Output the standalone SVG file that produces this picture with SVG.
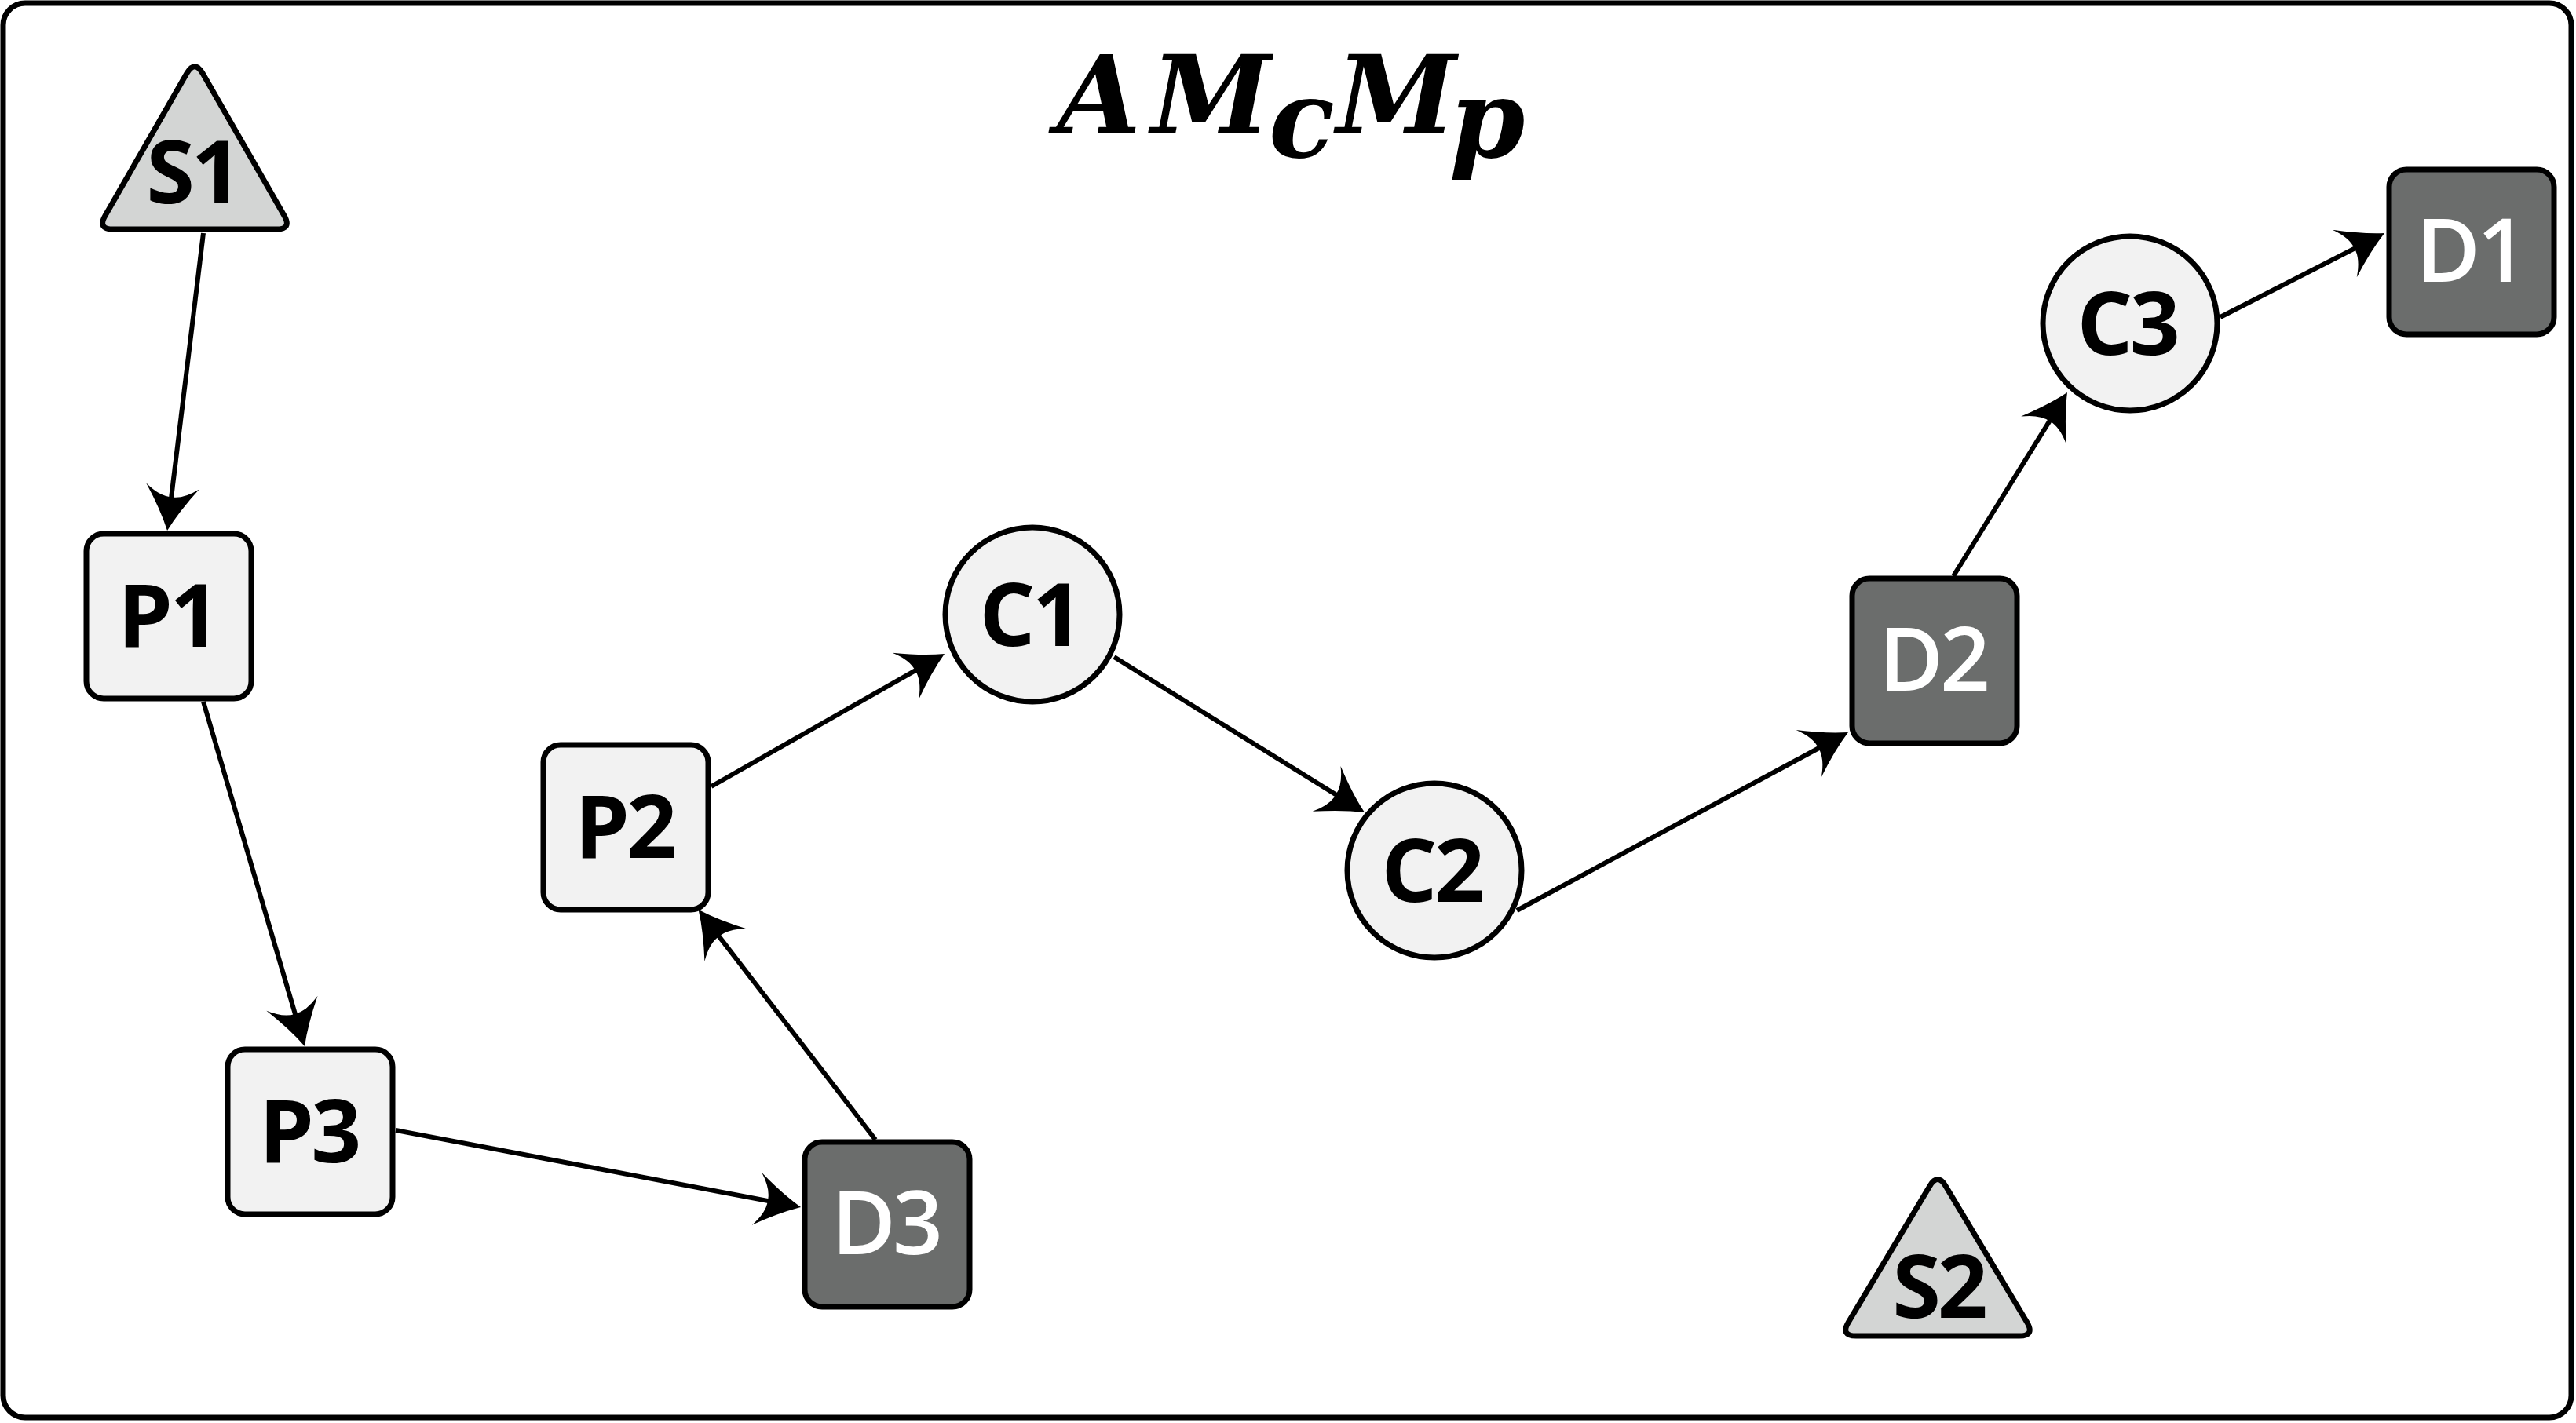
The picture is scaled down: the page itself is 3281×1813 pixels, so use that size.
<svg xmlns="http://www.w3.org/2000/svg" width="3281" height="1813" viewBox="0 0 3281 1813">
<style>
.frame{fill:#ffffff;stroke:#000;stroke-width:7}
.light{fill:#f2f2f2;stroke:#000;stroke-width:7}
.src{fill:#d3d5d4;stroke:#000;stroke-width:7;stroke-linejoin:round}
.dark{fill:#6b6d6c;stroke:#000;stroke-width:7}
.lbl{font-family:"Open Sans","Noto Sans","DejaVu Sans",sans-serif;font-weight:700;font-size:112px;letter-spacing:-4px;text-anchor:middle;fill:#000}
.lblw{fill:#ffffff;font-weight:600}
.title{font-family:"DejaVu Serif","Liberation Serif",serif;font-weight:bold;font-style:italic;font-size:138px;fill:#000}
.edge{stroke:#000;stroke-width:6;fill:none;marker-end:url(#arr)}
</style>
<defs>
<marker id="arr" markerUnits="userSpaceOnUse" viewBox="-25 -40 70 80" markerWidth="70" markerHeight="80" refX="0" refY="0" orient="auto" overflow="visible">
<path d="M38,0 Q12,-12 -19,-34 Q-4,-15 -5,0 Q-4,15 -19,34 Q12,12 38,0 Z" fill="#000"/>
</marker>
</defs>
<rect class="frame" x="4" y="4" width="3271" height="1802" rx="28"/>
<text class="title" y="170"><tspan x="1346">A</tspan><tspan x="1466">M</tspan><tspan x="1616" y="200">c</tspan><tspan x="1702" y="170">M</tspan><tspan x="1846" y="200">p</tspan></text>
<g id="connectors">
<line class="edge" x1="259" y1="297" x2="217.6" y2="638.3"/>
<line class="edge" x1="259" y1="894" x2="377.3" y2="1296.5"/>
<line class="edge" x1="504" y1="1440" x2="982.7" y2="1530.9"/>
<line class="edge" x1="1115" y1="1452" x2="912.8" y2="1189.1"/>
<line class="edge" x1="906" y1="1002" x2="1170.0" y2="851.8"/>
<line class="edge" x1="1419" y1="837" x2="1705.7" y2="1015.0"/>
<line class="edge" x1="1932" y1="1160" x2="2320.5" y2="951.0"/>
<line class="edge" x1="2488" y1="734" x2="2613.0" y2="532.3"/>
<line class="edge" x1="2828" y1="404" x2="3003.2" y2="314.3"/>
</g>
<g id="S1"><path class="src" d="M238,93.3 Q248,76 258,93.3 L362,274.7 Q372,292 352,292 L144,292 Q124,292 134,274.7 Z"/><text class="lbl" x="245" y="259">S1</text></g>
<g id="S2"><path class="src" d="M2457.8,1511.2 Q2468,1494 2478.2,1511.2 L2581.8,1684.8 Q2592,1702 2572,1702 L2364,1702 Q2344,1702 2354.2,1684.8 Z"/><text class="lbl" x="2469" y="1679">S2</text></g>
<g id="P1"><rect class="light" x="110" y="680" width="210" height="210" rx="22"/><text class="lbl" x="213" y="824">P1</text></g>
<g id="P2"><rect class="light" x="692" y="949" width="210" height="210" rx="22"/><text class="lbl" x="795" y="1093">P2</text></g>
<g id="P3"><rect class="light" x="290" y="1337" width="210" height="210" rx="22"/><text class="lbl" x="393" y="1481">P3</text></g>
<g id="C1"><circle class="light" cx="1315" cy="783" r="111"/><text class="lbl" x="1311" y="823">C1</text></g>
<g id="C2"><circle class="light" cx="1827" cy="1109" r="111"/><text class="lbl" x="1823" y="1149">C2</text></g>
<g id="C3"><circle class="light" cx="2713" cy="412" r="111"/><text class="lbl" x="2709" y="452">C3</text></g>
<g id="D1"><rect class="dark" x="3043" y="216" width="210" height="210" rx="22"/><text class="lbl lblw" x="3146" y="359">D1</text></g>
<g id="D2"><rect class="dark" x="2359" y="737" width="210" height="210" rx="22"/><text class="lbl lblw" x="2462" y="880">D2</text></g>
<g id="D3"><rect class="dark" x="1025" y="1455" width="210" height="210" rx="22"/><text class="lbl lblw" x="1128" y="1598">D3</text></g>
</svg>
